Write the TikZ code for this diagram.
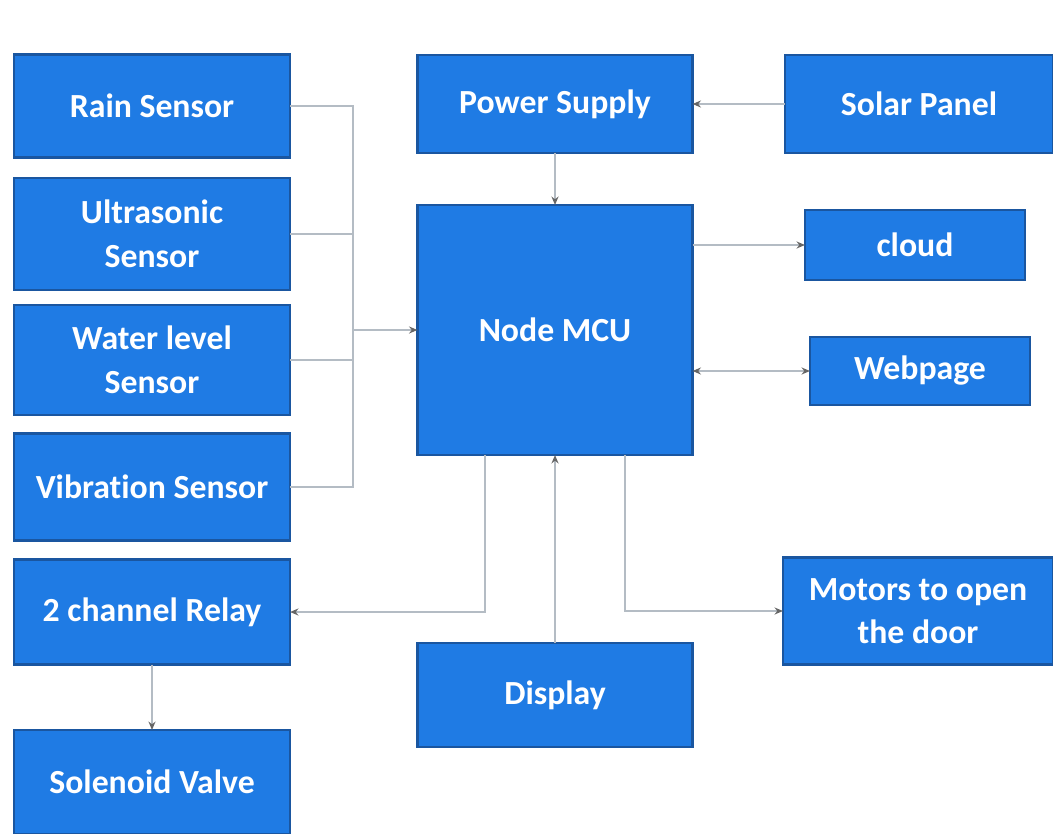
\documentclass[tikz,border=0pt]{standalone}
\usepackage{fontspec}
\setmainfont{Carlito}[Ligatures=NoCommon]
\usetikzlibrary{arrows.meta,calc}
\definecolor{boxblue}{HTML}{1F7BE4}
\definecolor{boxedge}{HTML}{1A56A0}
\definecolor{wiregray}{HTML}{B4BCC4}
\begin{document}
\begin{tikzpicture}[x=0.025cm,y=-0.025cm,inner sep=0pt,outer sep=0pt,
block/.style={draw=boxedge,fill=boxblue,rectangle,line width=2pt,text=white,align=center,
  font=\fontsize{24}{31}\selectfont\bfseries,minimum width=6.9cm},
wire/.style={draw=wiregray,line width=1pt},
arr/.style={wire,-{Stealth[length=6pt,width=5pt,color=gray!80!black]}},
biarr/.style={wire,{Stealth[length=6pt,width=5pt,color=gray!80!black]}-{Stealth[length=6pt,width=5pt,color=gray!80!black]}}]
\useasboundingbox (0,0) rectangle (1053,834);

% sensors and outputs on the left
\draw (152,106) node[block,minimum height=2.575cm] (rain) {Rain Sensor};
\draw (152,234) node[block,minimum height=2.8cm] (ultra) {Ultrasonic\\Sensor};
\draw (152,360) node[block,minimum height=2.75cm] (water) {Water level\\Sensor};
\draw (152,487) node[block,minimum height=2.675cm] (vib) {Vibration Sensor};
\draw (152,612) node[block,minimum height=2.625cm] (relay) {2 channel Relay};
\draw (152,782) node[block,minimum height=2.6cm] (valve) {Solenoid Valve};

% middle column
\draw (555,104) node[block,minimum width=6.875cm,minimum height=2.45cm] (power) {Power Supply};
\draw (555,330) node[block,minimum width=6.875cm,minimum height=6.25cm] (mcu) {Node MCU};
\draw (555,695) node[block,minimum width=6.875cm,minimum height=2.6cm] (display) {Display};

% right column
\draw (919,104) node[block,minimum width=6.7cm,minimum height=2.45cm] (solar) {Solar Panel};
\draw (915,245) node[block,minimum width=5.5cm,minimum height=1.75cm] (cloud) {cloud};
\draw (920,371) node[block,minimum width=5.5cm,minimum height=1.7cm] (web) {Webpage};
\draw (918,611) node[block,minimum width=6.75cm,minimum height=2.675cm] (motors) {Motors to open\\the door};

\coordinate (bus) at (353,330);
\draw[wire] (rain.east) -| (bus);
\draw[wire] (vib.east) -| (bus);
\draw[wire] (ultra.east) -- (ultra.east -| bus);
\draw[wire] (water.east) -- (water.east -| bus);
\draw[arr] (bus) -- (mcu.west);

\draw[arr] (solar.west) -- (power.east);
\draw[arr] (power.south) -- (mcu.north);
\draw[arr] (mcu.east |- cloud) -- (cloud.west);
\draw[biarr] (mcu.east |- web) -- (web.west);
\draw[arr] ($(mcu.south)+(-70,0)$) |- (relay.east);
\draw[arr] ($(mcu.south)+(70,0)$) |- (motors.west);
\draw[arr] (display.north) -- (mcu.south);
\draw[arr] (relay.south) -- (valve.north);
\end{tikzpicture}
\end{document}
